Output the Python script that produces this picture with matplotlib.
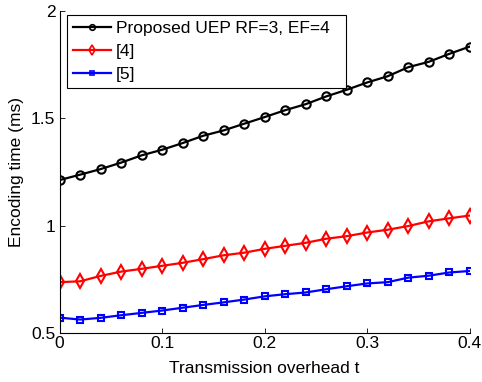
import matplotlib

matplotlib.use("Agg")
import matplotlib.pyplot as plt

plt.rcParams["font.family"] = ["Liberation Sans", "DejaVu Sans"]

overhead = [0.00, 0.02, 0.04, 0.06, 0.08, 0.10, 0.12, 0.14, 0.16, 0.18, 0.20,
            0.22, 0.24, 0.26, 0.28, 0.30, 0.32, 0.34, 0.36, 0.38, 0.40]
proposed_uep = [1.212, 1.237, 1.263, 1.293, 1.327, 1.353, 1.384, 1.418, 1.443, 1.474, 1.505,
                1.537, 1.565, 1.601, 1.632, 1.666, 1.695, 1.737, 1.762, 1.799, 1.833]
ref4 = [0.737, 0.741, 0.766, 0.786, 0.799, 0.813, 0.827, 0.844, 0.862, 0.874, 0.892,
        0.906, 0.920, 0.939, 0.951, 0.968, 0.981, 0.998, 1.020, 1.034, 1.047]
ref5 = [0.572, 0.563, 0.571, 0.583, 0.594, 0.605, 0.618, 0.631, 0.643, 0.656, 0.671,
        0.681, 0.689, 0.704, 0.718, 0.731, 0.737, 0.758, 0.767, 0.782, 0.789]

series = [
    ("Proposed UEP RF=3, EF=4", proposed_uep, "k", "o", 6),
    ("[4]", ref4, "r", "d", 7.5),
    ("[5]", ref5, "b", "s", 4.5),
]
FS = 12.5

fig = plt.figure(figsize=(4.82, 3.82), dpi=100)
ax = fig.add_axes([0.1235, 0.128, 0.851, 0.844])

for label, values, color, marker, ms in series:
    ax.plot(overhead, values, color=color, marker=marker, markersize=ms,
            markerfacecolor="none", markeredgewidth=1.5, linewidth=1.6, label=label)

ax.set_xlim(0, 0.4)
ax.set_ylim(0.5, 2)
ax.set_xticks([0, 0.1, 0.2, 0.3, 0.4])
ax.set_xticklabels(["0", "0.1", "0.2", "0.3", "0.4"])
ax.set_yticks([0.5, 1, 1.5, 2])
ax.set_yticklabels(["0.5", "1", "1.5", "2"])
ax.tick_params(direction="in", length=3.5, width=0.6, labelsize=FS, pad=3)
ax.tick_params(axis="x", pad=2)
for side in ("top", "right"):
    ax.spines[side].set_visible(False)
for side in ("left", "bottom"):
    ax.spines[side].set_linewidth(0.8)

ax.set_xlabel("Transmission overhead t", fontsize=FS, labelpad=7)
ax.set_ylabel("Encoding time (ms)", fontsize=FS, labelpad=5)

# legend box stretched to a fixed width, like the MATLAB one
leg = ax.legend(loc="upper left", bbox_to_anchor=(0.018, 0.5, 0.68, 0.486), mode="expand",
                fontsize=FS, frameon=True, fancybox=False, handlelength=2.2,
                handletextpad=0.25, borderpad=0.35, labelspacing=0.45, borderaxespad=0)
leg.get_frame().set_edgecolor("k")
leg.get_frame().set_linewidth(0.8)
leg.get_frame().set_alpha(1)
# smaller markers on the legend samples
for h, size in zip(leg.legend_handles, (4, 5, 3.5)):
    h.set_markersize(size)
    h.set_markeredgewidth(1.2)

fig.savefig("out.png", dpi=100)
